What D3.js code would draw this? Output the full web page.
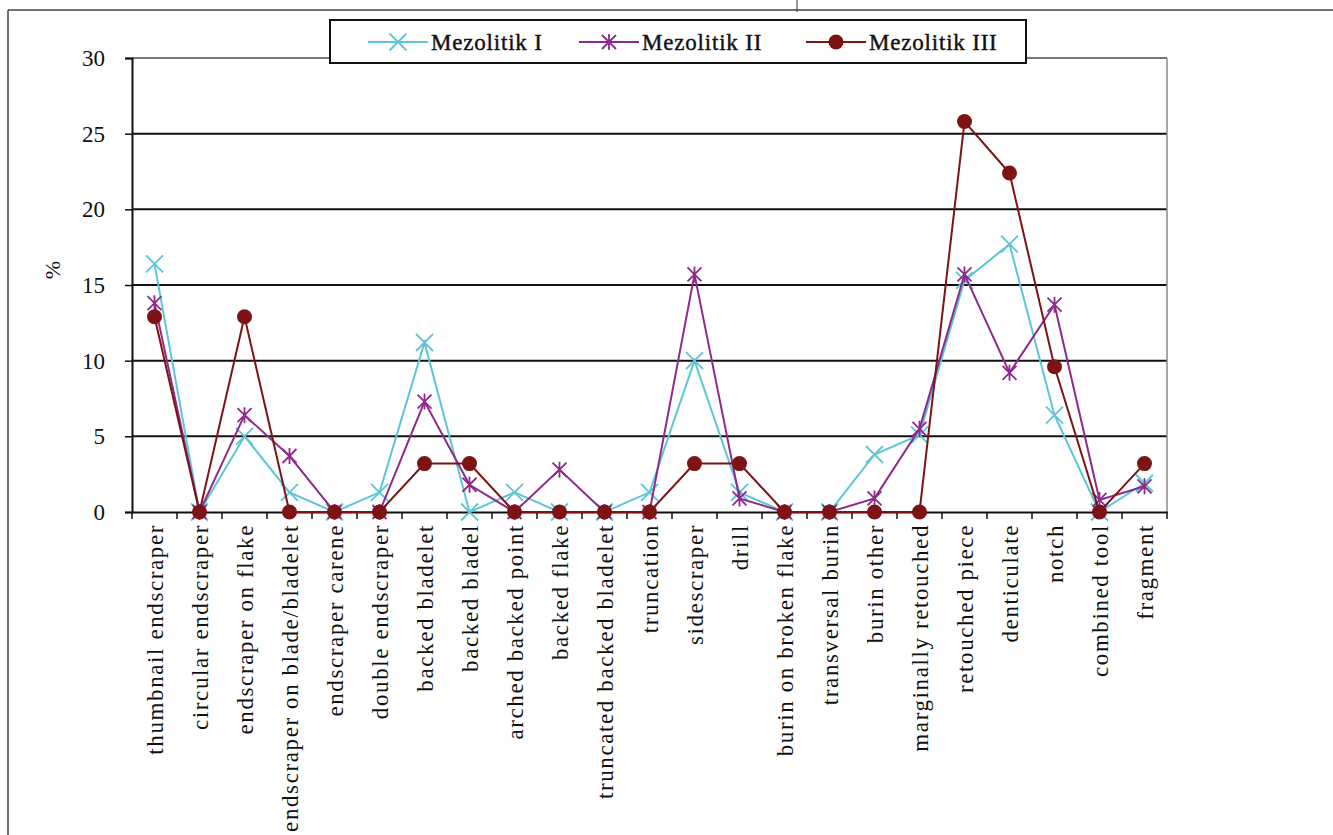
<!DOCTYPE html>
<html>
<head>
<meta charset="utf-8">
<script src="https://cdn.jsdelivr.net/npm/d3@7"></script>
<style>
  body { margin: 0; background: #fff; }
  svg { display: block; }
</style>
</head>
<body>
<script>
// tool types on the x axis
const categories = [
  "thumbnail endscraper", "circular endscraper", "endscraper on flake",
  "endscraper on blade/bladelet", "endscraper carene", "double endscraper",
  "backed bladelet", "backed bladel", "arched backed point", "backed flake",
  "truncated backed bladelet", "truncation", "sidescraper", "drill",
  "burin on broken flake", "transversal burin", "burin other",
  "marginally retouched", "retouched piece", "denticulate", "notch",
  "combined tool", "fragment"
];

// percentages
const mezolitikI   = [16.4, 0, 5.0, 1.3, 0, 1.3, 11.2, 0, 1.3, 0, 0, 1.3, 10.0, 1.3, 0, 0, 3.8, 5.1, 15.3, 17.7, 6.4, 0, 1.9];
const mezolitikII  = [13.8, 0, 6.4, 3.7, 0, 0, 7.3, 1.8, 0, 2.8, 0, 0, 15.7, 0.9, 0, 0, 0.9, 5.5, 15.7, 9.2, 13.7, 0.8, 1.7];
const mezolitikIII = [12.9, 0, 12.9, 0, 0, 0, 3.2, 3.2, 0, 0, 0, 0, 3.2, 3.2, 0, 0, 0, 0, 25.8, 22.4, 9.6, 0, 3.2];

const seriesNames = ["Mezolitik I", "Mezolitik II", "Mezolitik III"];
const yTicks = [0, 5, 10, 15, 20, 25, 30];

const W = 1333, H = 835;
const plot = { left: 132, right: 1167, top: 58, bottom: 512 };
const serif = "'Liberation Serif', 'Times New Roman', serif";

const series = [
  { name: seriesNames[0], values: mezolitikI,   color: "#5cc6d6", marker: "x" },
  { name: seriesNames[1], values: mezolitikII,  color: "#8e2a8e", marker: "star" },
  { name: seriesNames[2], values: mezolitikIII, color: "#7d1315", marker: "dot" }
];

const svg = d3.select("body").append("svg")
  .attr("width", W).attr("height", H);

// page frame (figure border)
svg.append("line").attr("x1", 8).attr("x2", W).attr("y1", 10).attr("y2", 10)
  .attr("stroke", "#444").attr("stroke-width", 1.5);
svg.append("line").attr("x1", 8).attr("x2", 8).attr("y1", 10).attr("y2", H)
  .attr("stroke", "#444").attr("stroke-width", 1.5);
svg.append("line").attr("x1", 797).attr("x2", 797).attr("y1", 0).attr("y2", 12)
  .attr("stroke", "#333").attr("stroke-width", 1);

const x = d3.scaleBand().domain(categories).range([plot.left, plot.right]).padding(0);
const y = d3.scaleLinear().domain([0, 30]).range([plot.bottom, plot.top]);
const cx = d => x(d) + x.bandwidth() / 2;

// horizontal gridlines
svg.append("g")
  .selectAll("line")
  .data(yTicks.filter(t => t > 0))
  .join("line")
  .attr("x1", plot.left).attr("x2", plot.right)
  .attr("y1", d => y(d)).attr("y2", d => y(d))
  .attr("stroke", d => d === 30 ? "#777" : "#111")
  .attr("stroke-width", 2);

// right edge of plot area
svg.append("line")
  .attr("x1", plot.right).attr("x2", plot.right)
  .attr("y1", plot.top).attr("y2", plot.bottom)
  .attr("stroke", "#888").attr("stroke-width", 1.5);

// y axis
const yAxis = svg.append("g")
  .attr("transform", `translate(${plot.left},0)`)
  .call(d3.axisLeft(y).tickValues(yTicks).tickSize(7).tickPadding(20));
yAxis.select(".domain").attr("stroke", "#111").attr("stroke-width", 2);
yAxis.selectAll(".tick line").attr("stroke", "#111").attr("stroke-width", 1.5);
yAxis.selectAll("text")
  .attr("font-family", serif).attr("font-size", 23).attr("fill", "#111");

svg.append("text")
  .attr("transform", "translate(60,270) rotate(-90)")
  .attr("text-anchor", "middle")
  .attr("font-family", serif).attr("font-size", 22).attr("fill", "#111")
  .text("%");

// x axis line, labels, and ticks between categories
const xAxis = svg.append("g")
  .attr("transform", `translate(0,${plot.bottom})`)
  .call(d3.axisBottom(x).tickSize(0));
xAxis.select(".domain").attr("stroke", "#111").attr("stroke-width", 2);
xAxis.selectAll(".tick text")
  .attr("font-family", serif).attr("font-size", 23).attr("fill", "#111")
  .attr("letter-spacing", 1.6)
  .attr("text-anchor", "end")
  .attr("dy", "0.35em")
  .attr("transform", "translate(0,12) rotate(-90)")
  .attr("x", 0).attr("y", 0);

const boundaries = categories.map(c => x(c)).concat([plot.right]);
svg.append("g")
  .selectAll("line")
  .data(boundaries)
  .join("line")
  .attr("x1", d => d).attr("x2", d => d)
  .attr("y1", plot.bottom).attr("y2", plot.bottom + 7)
  .attr("stroke", "#111").attr("stroke-width", 1.5);

// markers
function drawMarker(g, kind, color, px, py) {
  if (kind === "x") {
    const s = 8.5;
    g.append("path")
      .attr("d", `M${px - s},${py - s}L${px + s},${py + s}M${px - s},${py + s}L${px + s},${py - s}`)
      .attr("stroke", color).attr("stroke-width", 1.8).attr("fill", "none");
  } else if (kind === "star") {
    const s = 7;
    g.append("path")
      .attr("d", `M${px - s},${py - s}L${px + s},${py + s}M${px - s},${py + s}L${px + s},${py - s}M${px},${py - s - 1}L${px},${py + s + 1}`)
      .attr("stroke", color).attr("stroke-width", 1.8).attr("fill", "none");
  } else {
    g.append("circle").attr("cx", px).attr("cy", py).attr("r", 7.5).attr("fill", color);
  }
}

const line = d3.line().x(d => cx(d.cat)).y(d => y(d.v));

series.forEach(s => {
  const pts = categories.map((c, i) => ({ cat: c, v: s.values[i] }));
  const g = svg.append("g");
  g.append("path")
    .datum(pts)
    .attr("d", line)
    .attr("fill", "none")
    .attr("stroke", s.color)
    .attr("stroke-width", 2);
  pts.forEach(p => drawMarker(g, s.marker, s.color, cx(p.cat), y(p.v)));
});

// legend
const legend = svg.append("g");
legend.append("rect")
  .attr("x", 330).attr("y", 20).attr("width", 696).attr("height", 43)
  .attr("fill", "#fff").attr("stroke", "#111").attr("stroke-width", 2);

const legendX = [368, 579, 806];
series.forEach((s, i) => {
  const lx = legendX[i];
  const ly = 42;
  legend.append("line")
    .attr("x1", lx).attr("x2", lx + 60).attr("y1", ly).attr("y2", ly)
    .attr("stroke", s.color).attr("stroke-width", 2);
  drawMarker(legend, s.marker, s.color, lx + 30, ly);
  legend.append("text")
    .attr("x", lx + 63).attr("y", ly + 8)
    .attr("font-family", serif).attr("font-size", 23).attr("fill", "#111")
    .attr("letter-spacing", 0.8)
    .attr("stroke", "#111").attr("stroke-width", 0.4)
    .text(s.name);
});
</script>
</body>
</html>
